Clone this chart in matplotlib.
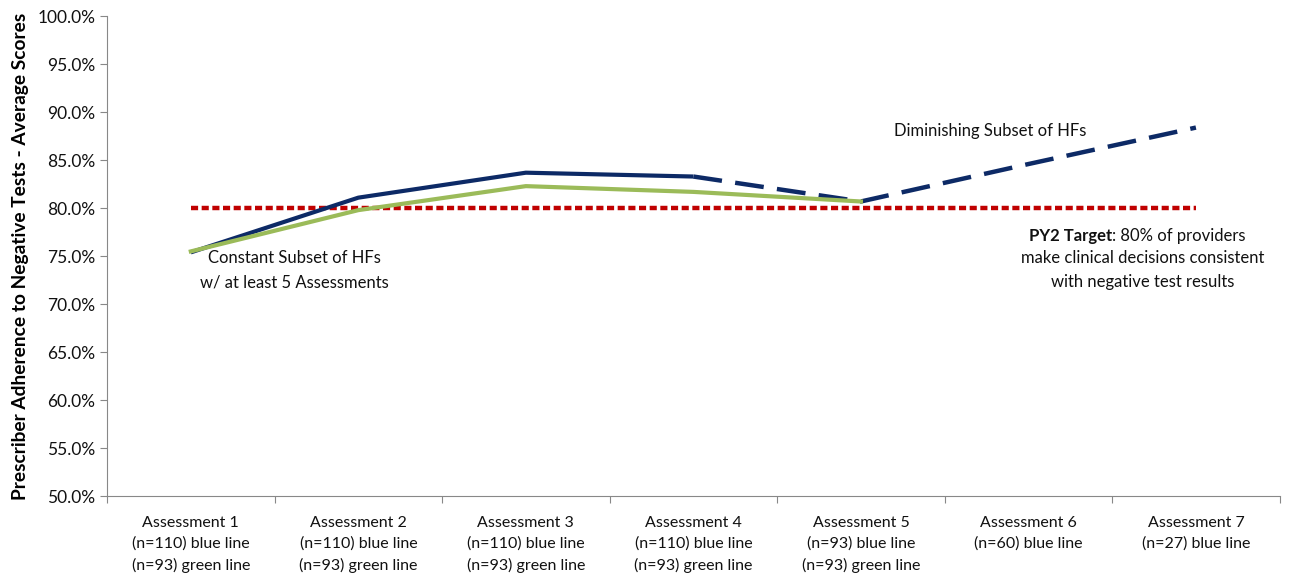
import matplotlib
matplotlib.use("Agg")
import matplotlib.pyplot as plt
from matplotlib.ticker import FixedLocator, FuncFormatter, NullFormatter

plt.rcParams['font.family'] = ['Lato', 'DejaVu Sans']

categories = [
    "Assessment 1\n(n=110) blue line\n(n=93) green line",
    "Assessment 2\n(n=110) blue line\n(n=93) green line",
    "Assessment 3\n(n=110) blue line\n(n=93) green line",
    "Assessment 4\n(n=110) blue line\n(n=93) green line",
    "Assessment 5\n(n=93) blue line\n(n=93) green line",
    "Assessment 6\n(n=60) blue line",
    "Assessment 7\n(n=27) blue line",
]
# blue line: all HFs with data at each assessment
blue = [75.4, 81.1, 83.7, 83.3, 80.7, 84.6, 88.4]
# green line: constant subset with at least 5 assessments
green = [75.5, 79.8, 82.3, 81.7, 80.7]
target = [80.0] * 7

x = list(range(len(categories)))

fig = plt.figure(figsize=(12.9, 5.79), dpi=100)
ax = fig.add_axes([0.083, 0.143, 0.909, 0.829])

navy = "#0d2a66"
ax.plot(x, target, color="#c00000", lw=3.2, dashes=(1.6, 0.8), zorder=2)
ax.plot(x[:4], blue[:4], color=navy, lw=3, solid_capstyle="butt", zorder=3)
ax.plot(x[3:], blue[3:], color=navy, lw=3.2, dashes=(6.5, 3), zorder=3)
ax.plot(x[:5], green, color="#9bbb59", lw=3, zorder=4)

ax.set_xlim(-0.5, 6.5)
ax.set_ylim(50, 100)
ax.yaxis.set_major_locator(FixedLocator([50 + 5 * i for i in range(11)]))
ax.yaxis.set_major_formatter(FuncFormatter(lambda v, p: f"{v:.1f}%"))
ax.xaxis.set_major_locator(FixedLocator([i - 0.5 for i in range(8)]))
ax.xaxis.set_major_formatter(NullFormatter())
ax.xaxis.set_minor_locator(FixedLocator(x))
ax.set_xticklabels(categories, minor=True)
ax.tick_params(axis="x", which="major", length=5, color="#888888")
ax.tick_params(axis="x", which="minor", length=0, pad=14, labelsize=11.5, colors="#111111")
ax.tick_params(axis="y", length=5, color="#888888", labelsize=12.5, colors="#111111")
for lbl in ax.get_xticklabels(minor=True):
    lbl.set_linespacing(1.6)

for s in ["top", "right"]:
    ax.spines[s].set_visible(False)
for s in ["left", "bottom"]:
    ax.spines[s].set_color("#888888")

ax.set_ylabel("Prescriber Adherence to Negative Tests - Average Scores",
              fontsize=13.8, fontweight="bold", labelpad=6)

txt_kw = dict(fontsize=12, color="#111111")
ax.text(0.62, 75.6, "Constant Subset of HFs\nw/ at least 5 Assessments",
        ha="center", va="top", linespacing=1.6, **txt_kw)
ax.text(4.77, 88.0, "Diminishing Subset of HFs",
        ha="center", va="center", **txt_kw)
bold = ax.text(5.5, 77.1, "PY2 Target", ha="right", va="center",
               fontweight="bold", **txt_kw)
ax.annotate(": 80% of providers", xy=(1, 0.5), xycoords=bold,
            ha="left", va="center", **txt_kw)
ax.text(5.68, 75.65, "make clinical decisions consistent\nwith negative test results",
        ha="center", va="top", linespacing=1.6, **txt_kw)

fig.savefig("out.png", dpi=100)
